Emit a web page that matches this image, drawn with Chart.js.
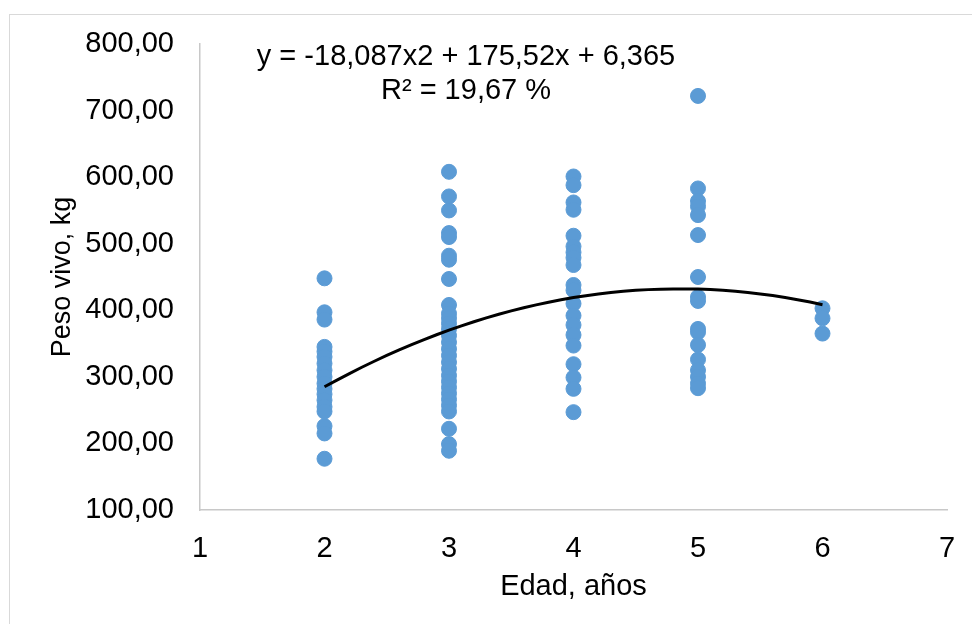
<!DOCTYPE html>
<html lang="es">
<head>
<meta charset="utf-8">
<title>Peso vivo según edad</title>
<script src="https://cdn.jsdelivr.net/npm/chart.js@4/dist/chart.umd.min.js"></script>
<style>
  html, body { margin: 0; padding: 0; background: #fff; overflow: hidden; }
  #frame {
    position: absolute; left: 9px; top: 14px; width: 1000px; height: 700px;
    border-left: 1px solid #d9d9d9; border-top: 1px solid #d9d9d9;
  }
  #peso-chart { position: absolute; left: 0; top: 0; }
</style>
</head>
<body>
<div id="frame"></div>
<canvas id="peso-chart" width="972" height="624"></canvas>
<script>
// Peso vivo (kg) de cada animal, agrupado por edad en años
const edades = [2, 3, 4, 5, 6];
const peso2 = [448, 397, 386, 345, 338, 330, 320, 310, 300, 290, 282, 274, 265, 255, 248, 226, 215, 177];
const peso3 = [608, 571, 550, 516, 510, 482, 476, 447, 408, 395, 388, 380, 372, 362, 352, 342, 332, 322,
               312, 302, 293, 284, 275, 266, 257, 248, 222, 199, 189];
const peso4 = [601, 588, 562, 551, 512, 496, 487, 479, 468, 438, 430, 410, 392, 378, 363, 347, 319, 299, 282, 247];
const peso5 = [722, 583, 564, 556, 543, 513, 450, 420, 414, 372, 367, 348, 326, 310, 300, 290, 283];
const peso6 = [403, 388, 365];

// Ajuste polinómico de orden 2 (y = a·x² + b·x + c)
const coefA = -18.087;
const coefB = 175.52;
const coefC = 6.365;
const r2 = 19.67;

const xTicks = [1, 2, 3, 4, 5, 6, 7];
const yTicks = [100, 200, 300, 400, 500, 600, 700, 800];

const FONT = 'Arial, "Liberation Sans", sans-serif';
const fmt = (v, d) => v.toFixed(d).replace('.', ',');

const pesosPorEdad = [peso2, peso3, peso4, peso5, peso6];
const puntos = edades.flatMap((edad, i) => pesosPorEdad[i].map(p => ({ x: edad, y: p })));

// curva de tendencia entre la edad mínima y la máxima
const tendencia = [];
for (let x = edades[0]; x <= edades[edades.length - 1] + 1e-9; x += 0.1) {
  tendencia.push({ x, y: coefA * x * x + coefB * x + coefC });
}

const ecuacionPlugin = {
  id: 'ecuacion',
  afterDatasetsDraw(chart) {
    const { ctx } = chart;
    ctx.save();
    ctx.font = `29px ${FONT}`;
    ctx.fillStyle = '#000';
    ctx.textAlign = 'center';
    ctx.textBaseline = 'alphabetic';
    ctx.fillText(`y = ${fmt(coefA, 3)}x2 + ${fmt(coefB, 2)}x + ${fmt(coefC, 3)}`, 466, 65);
    ctx.fillText(`R² = ${fmt(r2, 2)} %`, 466, 99);
    ctx.restore();
  },
};

new Chart(document.getElementById('peso-chart'), {
  type: 'scatter',
  data: {
    datasets: [
      {
        type: 'line',
        label: 'Tendencia',
        data: tendencia,
        borderColor: '#000',
        borderWidth: 3,
        pointRadius: 0,
        fill: false,
        tension: 0,
        order: 0,
      },
      {
        label: 'Peso vivo',
        data: puntos,
        backgroundColor: '#5b9bd5',
        borderColor: '#5b9bd5',
        pointRadius: 7.5,
        pointHoverRadius: 7.5,
        order: 1,
      },
    ],
  },
  options: {
    responsive: false,
    animation: false,
    devicePixelRatio: 1,
    layout: { padding: { top: 44, right: 25, left: 9, bottom: 0 } },
    plugins: { legend: { display: false }, tooltip: { enabled: false } },
    scales: {
      x: {
        type: 'linear',
        min: 1,
        max: 7,
        afterBuildTicks: (scale) => { scale.ticks = xTicks.map(v => ({ value: v })); },
        afterFit: (scale) => {
          scale.height = 114;
          scale.paddingLeft = 0;
          scale.paddingRight = 0;
        },
        grid: { display: false, drawTicks: false },
        border: { color: '#c8c8c8', width: 1.5 },
        ticks: { color: '#000', font: { family: FONT, size: 29 }, padding: 22, callback: v => String(v) },
        title: { display: true, text: 'Edad, años', color: '#000', font: { family: FONT, size: 29 }, padding: { top: 0, bottom: 20 } },
      },
      y: {
        min: 100,
        max: 800,
        afterBuildTicks: (scale) => { scale.ticks = yTicks.map(v => ({ value: v })); },
        afterFit: (scale) => { scale.width = 191; },
        grid: { display: false, drawTicks: false },
        border: { color: '#c8c8c8', width: 1.5 },
        ticks: { color: '#000', font: { family: FONT, size: 29 }, padding: 26, callback: v => fmt(v, 2) },
        title: { display: true, text: 'Peso vivo, kg', color: '#000', font: { family: FONT, size: 27 }, padding: { top: 37, bottom: 0 } },
      },
    },
  },
  plugins: [ecuacionPlugin],
});
</script>
</body>
</html>
